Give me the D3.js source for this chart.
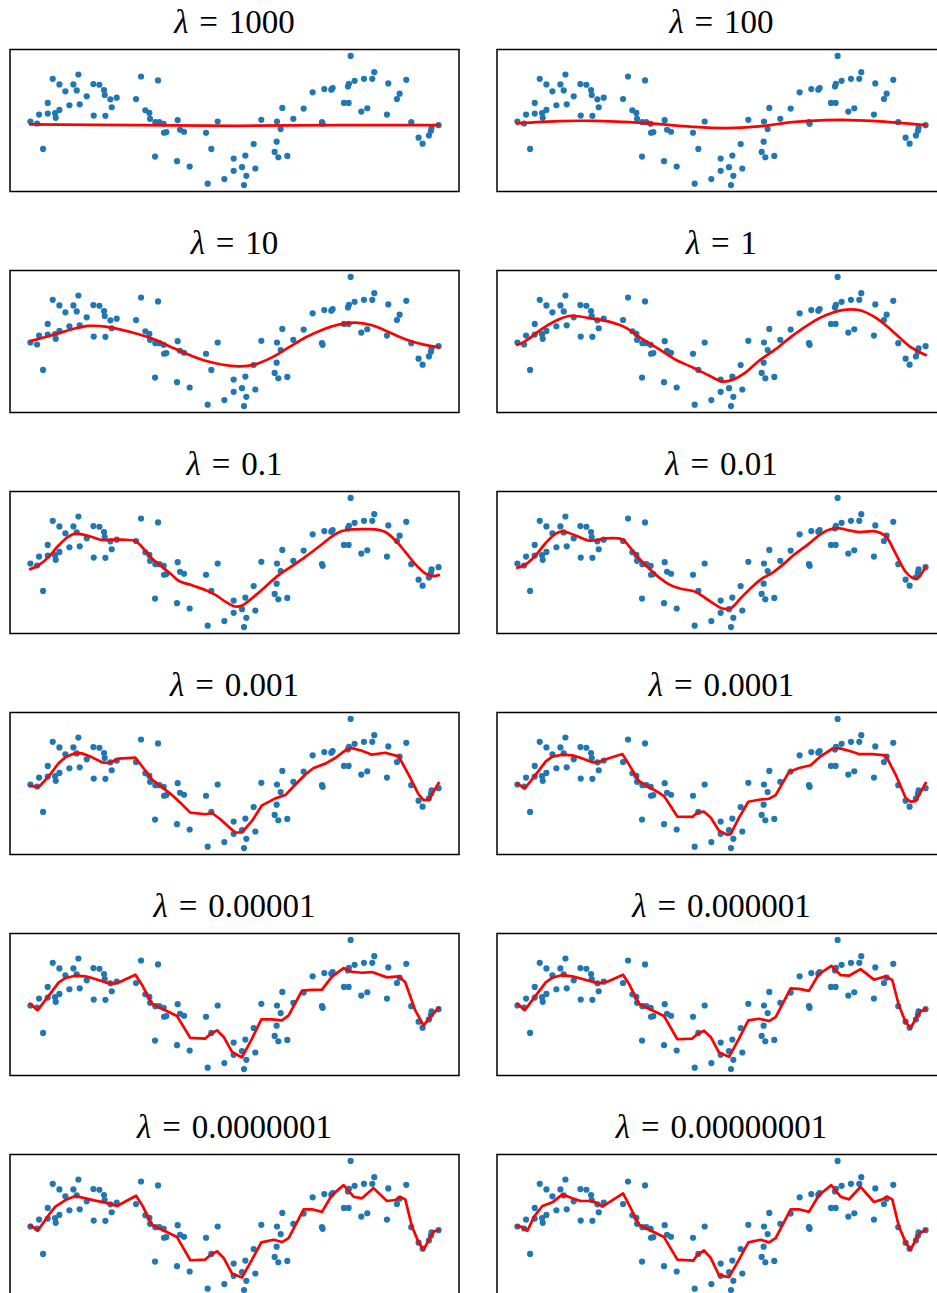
<!DOCTYPE html>
<html><head><meta charset="utf-8">
<script src="https://cdn.jsdelivr.net/npm/d3@7"></script>
<style>body{margin:0;background:#fff}svg{display:block}</style>
</head><body>
<script>
// Scatter data (same in every panel)
const pointsX = [0.00,0.20,0.26,0.38,0.52,0.52,0.67,0.74,0.76,0.87,0.87,1.05,1.17,1.29,1.39,1.44,1.48,1.69,1.89,1.90,2.07,2.21,2.23,2.25,2.40,2.44,2.59,3.17,3.32,3.45,3.57,3.59,3.74,3.75,3.83,3.87,4.00,4.01,4.08,4.40,4.42,4.49,4.61,4.78,5.27,5.32,5.43,5.62,5.82,6.10,6.10,6.35,6.41,6.45,6.48,6.70,6.75,6.93,7.33,7.39,7.40,7.44,7.51,7.56,7.71,7.89,8.20,8.47,8.75,8.77,8.82,9.03,9.07,9.41,9.53,9.55,9.56,9.61,9.73,9.93,10.01,10.11,10.26,10.32,10.70,10.74,11.00,11.08,11.28,11.43,11.65,11.77,11.96,12.02,12.04,12.25];
const pointsY = [-0.03,-0.09,0.18,-0.86,0.53,0.21,1.26,0.22,0.08,1.09,0.32,0.88,0.46,1.09,0.91,1.39,0.49,0.73,1.10,0.15,1.08,0.92,0.77,0.14,0.64,0.40,0.69,0.65,1.33,0.31,0.23,0.05,-1.09,-0.05,1.21,-0.05,-0.10,-0.37,-0.35,-1.23,0.01,-0.28,-0.34,-1.39,-0.37,-1.91,-0.86,-0.03,-1.77,-1.15,-1.52,-1.41,-1.95,-1.06,-1.67,-0.71,-1.45,0.02,-0.95,-0.64,-0.03,-1.11,-0.26,0.38,-1.07,0.05,0.36,0.85,-0.05,-0.10,0.95,0.93,0.98,0.53,1.03,0.53,1.11,1.95,1.20,0.27,1.26,0.37,1.26,1.46,0.18,1.12,0.65,0.81,1.23,-0.05,-0.52,-0.70,-0.45,-0.31,-0.21,-0.14];

// Panel titles (lambda values)
const lambdas = ["1000","100","10","1","0.1","0.01","0.001","0.0001","0.00001","0.000001","0.0000001","0.00000001"];

// Fitted curves, one per lambda
const fitX1 = [0,3.25,6.25,9.25,12.25];
const fitY1 = [-0.12,-0.14,-0.16,-0.14,-0.14];
const fitX2 = [0,1.25,2.25,3.75,5.25,6.25,7.25,8.25,9.25,9.75,10.75,12.25];
const fitY2 = [-0.09,-0.02,-0.01,-0.07,-0.19,-0.23,-0.18,-0.05,0.01,0.02,-0.02,-0.14];
const fitX3 = [0,0.75,1.25,1.75,2.25,3.25,3.75,4.25,5.25,6.25,6.75,7.25,7.75,8.25,8.75,9.25,9.75,10.25,10.75,11.25,11.75,12.25];
const fitY3 = [0.01,0.22,0.37,0.47,0.45,0.22,0.05,-0.18,-0.58,-0.75,-0.69,-0.48,-0.18,0.12,0.35,0.51,0.57,0.49,0.29,0.07,-0.08,-0.17];
const fitX4 = [0,0.25,0.75,1.25,1.55,1.75,2.25,2.75,3.25,3.75,4.25,4.75,5.25,5.75,6.15,6.45,6.85,7.25,7.75,8.25,8.75,9.25,9.75,10.25,10.75,11.25,11.75,12.25];
const fitY4 = [-0.10,0.02,0.39,0.67,0.77,0.77,0.69,0.60,0.42,0.07,-0.23,-0.55,-0.78,-1.03,-1.21,-1.16,-0.93,-0.58,-0.23,0.17,0.52,0.79,0.95,0.95,0.72,0.32,-0.13,-0.41];
const fitX5 = [0,0.25,0.55,0.85,1.15,1.35,1.55,1.85,2.15,2.45,2.75,3.15,3.35,3.65,3.95,4.25,4.45,4.85,5.25,5.55,5.85,6.15,6.35,6.65,7.05,7.45,7.85,8.25,8.75,9.05,9.35,9.65,10.05,10.35,10.65,10.95,11.25,11.55,11.85,12.05,12.25];
const fitY5 = [-0.20,-0.08,0.17,0.52,0.79,0.87,0.85,0.77,0.68,0.69,0.69,0.65,0.47,0.12,-0.13,-0.38,-0.55,-0.69,-0.83,-0.98,-1.18,-1.33,-1.30,-1.08,-0.73,-0.38,-0.11,0.17,0.55,0.79,0.95,1.00,1.01,1.00,0.92,0.67,0.32,-0.05,-0.33,-0.41,-0.38];
const fitX6 = [0,0.25,0.55,0.85,1.15,1.35,1.55,1.85,2.15,2.45,2.65,3.15,3.35,3.65,3.95,4.25,4.55,4.85,5.35,5.65,5.95,6.15,6.40,6.70,7.05,7.35,7.65,7.95,8.25,8.75,9.05,9.35,9.65,9.95,10.25,10.75,11.05,11.35,11.65,11.85,12.00,12.25];
const fitY6 = [-0.16,-0.06,0.22,0.59,0.87,0.94,0.89,0.77,0.66,0.69,0.73,0.70,0.49,0.12,-0.18,-0.45,-0.66,-0.78,-0.89,-1.08,-1.28,-1.39,-1.38,-1.08,-0.73,-0.48,-0.31,-0.08,0.19,0.57,0.82,0.99,1.03,0.97,0.92,0.94,0.79,0.27,-0.28,-0.46,-0.48,-0.13];
const fitX7 = [0,0.25,0.55,0.85,1.05,1.35,1.55,1.85,2.15,2.35,2.65,3.15,3.35,3.65,3.95,4.25,4.55,4.80,5.25,5.45,5.70,5.95,6.15,6.35,6.65,6.95,7.35,7.65,7.95,8.25,8.50,8.85,9.15,9.45,9.65,9.95,10.25,10.65,11.05,11.35,11.65,11.80,11.95,12.25];
const fitY7 = [-0.07,-0.11,0.22,0.62,0.79,0.92,0.91,0.79,0.64,0.62,0.75,0.78,0.52,0.12,-0.11,-0.35,-0.63,-0.88,-0.93,-0.89,-1.08,-1.31,-1.48,-1.48,-1.13,-0.66,-0.45,-0.35,-0.03,0.27,0.47,0.60,0.77,1.00,1.07,0.99,0.87,0.93,0.82,0.27,-0.33,-0.50,-0.49,0.01];
const fitX8 = [0,0.22,0.55,0.85,1.05,1.35,1.65,1.85,2.25,2.45,2.70,3.15,3.35,3.65,3.95,4.25,4.40,4.80,5.25,5.40,5.60,5.80,6.05,6.30,6.40,6.65,6.93,7.25,7.55,7.75,8.15,8.45,8.80,9.10,9.45,9.65,9.95,10.25,10.65,11.05,11.35,11.65,11.80,11.95,12.25];
const fitY8 = [-0.01,-0.15,0.27,0.67,0.81,0.87,0.85,0.79,0.64,0.65,0.75,0.89,0.57,0.07,-0.11,-0.28,-0.38,-1.00,-1.01,-0.88,-0.85,-1.03,-1.43,-1.55,-1.53,-1.03,-0.55,-0.49,-0.46,-0.35,0.35,0.47,0.55,0.82,1.05,1.07,0.99,0.89,0.89,0.85,0.27,-0.43,-0.55,-0.53,0.01];
const fitX9 = [0,0.22,0.55,0.85,1.05,1.35,1.65,1.85,2.25,2.45,2.70,3.15,3.35,3.65,3.95,4.40,4.80,5.25,5.40,5.60,5.80,6.05,6.35,6.65,6.93,7.25,7.55,7.75,8.15,8.45,8.75,9.05,9.40,9.65,9.95,10.25,10.70,11.05,11.25,11.55,11.80,12.00,12.25];
const fitY9 = [0.01,-0.17,0.27,0.67,0.80,0.87,0.85,0.80,0.67,0.62,0.69,0.90,0.59,0.02,-0.13,-0.35,-1.01,-1.03,-0.89,-0.78,-0.98,-1.43,-1.60,-1.03,-0.45,-0.45,-0.48,-0.33,0.42,0.44,0.45,0.84,1.10,0.99,0.96,0.98,0.82,0.85,0.67,-0.18,-0.63,-0.38,-0.10];
const fitX10 = [0,0.22,0.55,0.85,1.05,1.35,1.65,1.95,2.25,2.45,2.70,3.17,3.35,3.65,3.95,4.40,4.80,5.25,5.40,5.60,5.80,6.05,6.35,6.65,6.93,7.25,7.55,7.75,8.20,8.45,8.75,9.05,9.42,9.70,9.95,10.30,10.70,11.05,11.25,11.45,11.65,11.80,12.00,12.10,12.25];
const fitY10 = [0.02,-0.17,0.27,0.67,0.81,0.89,0.85,0.77,0.69,0.64,0.69,0.90,0.62,0.02,-0.13,-0.35,-1.05,-1.03,-0.89,-0.79,-0.98,-1.45,-1.58,-1.03,-0.48,-0.43,-0.50,-0.38,0.49,0.47,0.41,0.92,1.17,0.89,0.87,1.07,0.75,0.85,0.74,-0.03,-0.53,-0.71,-0.35,-0.21,-0.14];
const fitX11 = [0,0.22,0.55,0.75,1.05,1.35,1.65,1.95,2.25,2.60,3.17,3.35,3.65,3.95,4.40,4.80,5.25,5.40,5.60,5.80,6.05,6.35,6.65,6.93,7.30,7.55,7.75,8.20,8.45,8.75,9.05,9.40,9.70,9.95,10.30,10.70,10.95,11.10,11.25,11.45,11.65,11.80,12.00,12.10,12.25];
const fitY11 = [0.01,-0.16,0.32,0.57,0.77,0.89,0.82,0.75,0.69,0.59,0.90,0.62,0.02,-0.13,-0.35,-1.05,-1.03,-0.89,-0.78,-0.98,-1.45,-1.57,-1.03,-0.51,-0.43,-0.50,-0.38,0.49,0.49,0.41,0.92,1.22,0.87,0.82,1.13,0.74,0.77,0.86,0.79,-0.03,-0.51,-0.73,-0.35,-0.18,-0.14];
const fitX12 = [0,0.15,0.30,0.50,0.75,1.05,1.35,1.65,1.90,2.20,2.35,2.55,3.17,3.35,3.65,3.95,4.40,4.80,5.28,5.40,5.60,5.80,6.05,6.35,6.65,6.93,7.30,7.55,7.75,8.20,8.45,8.75,9.05,9.42,9.70,9.95,10.30,10.70,10.95,11.10,11.25,11.45,11.65,11.80,12.00,12.10,12.25];
const fitY12 = [-0.01,-0.05,-0.16,0.27,0.59,0.70,0.94,0.82,0.74,0.74,0.70,0.57,0.97,0.62,0.02,-0.13,-0.35,-1.03,-1.06,-0.89,-0.75,-0.98,-1.50,-1.56,-1.03,-0.51,-0.43,-0.51,-0.38,0.49,0.49,0.41,0.92,1.22,0.87,0.79,1.17,0.71,0.79,0.87,0.79,-0.03,-0.51,-0.73,-0.35,-0.21,-0.14];

const fitsX = [fitX1,fitX2,fitX3,fitX4,fitX5,fitX6,fitX7,fitX8,fitX9,fitX10,fitX11,fitX12];
const fitsY = [fitY1,fitY2,fitY3,fitY4,fitY5,fitY6,fitY7,fitY8,fitY9,fitY10,fitY11,fitY12];

const W = 937, H = 1293;
const svg = d3.select("body").append("svg").attr("width", W).attr("height", H);

const colLeft = [10, 497], panelW = 449, panelH = 142, rowTop0 = 49.5, rowStep = 221;

const xe = d3.extent(pointsX), ye = d3.extent(pointsY);
const xp = (xe[1]-xe[0])*0.05, yp = (ye[1]-ye[0])*0.05;

const pts = pointsX.map((x,i)=>({x, y: pointsY[i]}));

lambdas.forEach((lam, k) => {
  const col = k % 2, row = Math.floor(k / 2);
  const x0 = colLeft[col], y0 = rowTop0 + row*rowStep;
  const x = d3.scaleLinear().domain([xe[0]-xp, xe[1]+xp]).range([x0, x0+panelW]);
  const y = d3.scaleLinear().domain([ye[0]-yp, ye[1]+yp]).range([y0+panelH, y0]);
  const g = svg.append("g");
  const cid = "clip"+k;
  g.append("clipPath").attr("id", cid).append("rect")
    .attr("x", x0).attr("y", y0).attr("width", panelW).attr("height", panelH);

  g.append("g").selectAll("circle").data(pts).join("circle")
    .attr("cx", d=>x(d.x)).attr("cy", d=>y(d.y)).attr("r", 3.1)
    .attr("fill", "#1f77b4");

  const fit = fitsX[k].map((fx,i)=>({x: fx, y: fitsY[k][i]}));
  const line = d3.line().x(d=>x(d.x)).y(d=>y(d.y))
    .curve(k < 6 ? d3.curveCatmullRom.alpha(0.5) : d3.curveLinear);
  g.append("path").datum(fit).attr("d", line)
    .attr("clip-path", `url(#${cid})`)
    .attr("fill","none").attr("stroke","#ff0000").attr("stroke-width",2.7)
    .attr("stroke-linejoin","round").attr("stroke-linecap","square");

  g.append("rect").attr("x", x0).attr("y", y0).attr("width", panelW).attr("height", panelH)
    .attr("fill","none").attr("stroke","#000").attr("stroke-width",1.5);

  const t = g.append("text").attr("x", x0 + panelW/2).attr("y", y0 - 17)
    .attr("text-anchor","middle").attr("font-family","'Liberation Serif', 'DejaVu Serif', serif")
    .attr("font-size", 33).attr("fill","#000");
  t.append("tspan").attr("font-style","italic").text("λ");
  t.append("tspan").attr("dx","0.33em").text("=");
  t.append("tspan").attr("dx","0.33em").text(lam);
});
</script>
</body></html>
